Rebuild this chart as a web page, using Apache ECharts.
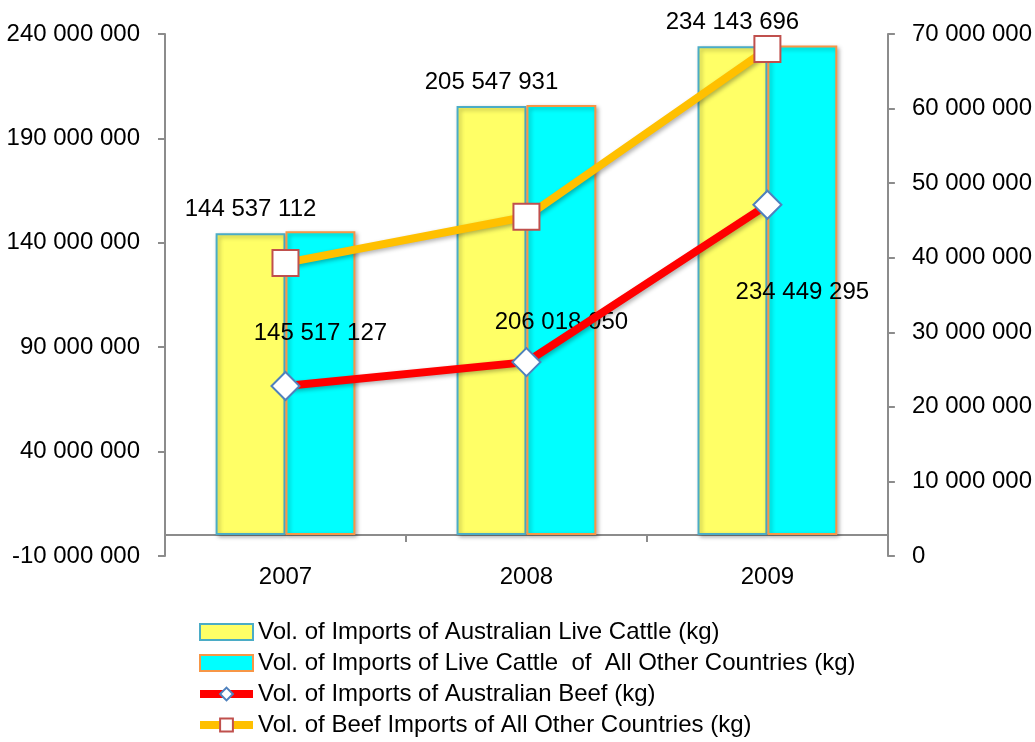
<!DOCTYPE html>
<html>
<head>
<meta charset="utf-8">
<script src="https://cdn.jsdelivr.net/npm/echarts@6/dist/echarts.min.js"></script>
<style>
  html, body { margin: 0; padding: 0; background: #fff; }
  #chart { width: 1035px; height: 742px; }
</style>
</head>
<body>
<div id="chart"></div>
<script>
// data
const years = ['2007', '2008', '2009']
const ausLiveCattle = [144537112, 205547931, 234143696]
const otherLiveCattle = [145517127, 206018050, 234449295]
const ausBeef = [22800000, 26000000, 47100000]
const otherBeef = [39300000, 45500000, 68000000]
const leftTicks = [-10000000, 40000000, 90000000, 140000000, 190000000, 240000000]

const names = [
    'Vol. of Imports of Australian Live Cattle (kg)',
    'Vol. of Imports of Live Cattle  of  All Other Countries (kg)',
    'Vol. of Imports of Australian Beef (kg)',
    'Vol. of Beef Imports of All Other Countries (kg)'
]

const fontFamily = '"Liberation Sans", Arial, sans-serif'
const axisGrey = '#8c8c8c'

function spaced(v) {
    return String(v).replace(/\B(?=(\d{3})+(?!\d))/g, ' ')
}

const shadow = {
    shadowBlur: 4,
    shadowOffsetX: 2,
    shadowOffsetY: 2,
    shadowColor: 'rgba(0,0,0,0.3)'
}

let myChart = echarts.init(document.getElementById('chart'), null, {renderer: 'canvas'})
myChart.setOption({
    animation: false,
    textStyle: {fontFamily: fontFamily},
    grid: {left: 165, right: 147, top: 34, bottom: 186},
    legend: {
        orient: 'vertical',
        left: 196,
        top: 620,
        padding: 0,
        itemWidth: 53,
        itemHeight: 16,
        itemGap: 7,
        data: [
            {name: names[0], icon: 'rect'},
            {name: names[1], icon: 'rect'},
            {name: names[2], lineStyle: {width: 8}},
            {name: names[3], lineStyle: {width: 8}}
        ],
        textStyle: {fontSize: 24, color: '#000', fontFamily: fontFamily}
    },
    xAxis: {
        type: 'category',
        data: years,
        axisLine: {onZero: true, onZeroAxisIndex: 0, lineStyle: {color: axisGrey, width: 2}},
        axisTick: {show: true, length: 7, lineStyle: {color: axisGrey, width: 2}},
        axisLabel: {fontSize: 24, color: '#000', margin: 9}
    },
    yAxis: [
        {
            type: 'value',
            min: -10000000,
            max: 240000000,
            splitLine: {show: false},
            axisLine: {show: true, lineStyle: {color: axisGrey, width: 2}},
            axisTick: {show: true, length: 7, customValues: leftTicks, lineStyle: {color: axisGrey, width: 2}},
            axisLabel: {customValues: leftTicks, fontSize: 24, color: '#000', margin: 25, formatter: spaced}
        },
        {
            type: 'value',
            min: 0,
            max: 70000000,
            interval: 10000000,
            position: 'right',
            splitLine: {show: false},
            axisLine: {show: true, lineStyle: {color: axisGrey, width: 2}},
            axisTick: {show: true, length: 7, lineStyle: {color: axisGrey, width: 2}},
            axisLabel: {fontSize: 24, color: '#000', margin: 24, formatter: spaced}
        }
    ],
    series: [
        {
            name: names[0],
            type: 'bar',
            yAxisIndex: 0,
            barGap: '0%',
            barCategoryGap: '42%',
            data: ausLiveCattle,
            itemStyle: Object.assign({color: '#ffff66', borderColor: '#4bacc6', borderWidth: 2}, shadow),
            label: {
                show: true,
                position: 'top',
                distance: 12,
                fontSize: 24,
                color: '#000',
                formatter: p => spaced(p.value)
            }
        },
        {
            name: names[1],
            type: 'bar',
            yAxisIndex: 0,
            data: otherLiveCattle.map((v, i) => ({
                value: v,
                // first label was pushed up clear of the marker
                label: i === 0 ? {offset: [0, -50]} : {offset: [0, 2]}
            })),
            itemStyle: Object.assign({color: '#00ffff', borderColor: '#f79646', borderWidth: 2}, shadow),
            label: {
                show: true,
                position: 'inside',
                fontSize: 24,
                color: '#000',
                formatter: p => spaced(p.value)
            }
        },
        {
            name: names[2],
            type: 'line',
            yAxisIndex: 1,
            data: ausBeef,
            symbol: 'diamond',
            symbolSize: 28,
            lineStyle: Object.assign({color: '#ff0000', width: 8}, shadow),
            itemStyle: {color: '#ffffff', borderColor: '#4f81bd', borderWidth: 2},
            z: 5
        },
        {
            name: names[3],
            type: 'line',
            yAxisIndex: 1,
            data: otherBeef,
            symbol: 'rect',
            symbolSize: 26,
            lineStyle: Object.assign({color: '#ffc000', width: 8}, shadow),
            itemStyle: {color: '#ffffff', borderColor: '#c0504d', borderWidth: 2},
            z: 5
        }
    ]
})
</script>
</body>
</html>
